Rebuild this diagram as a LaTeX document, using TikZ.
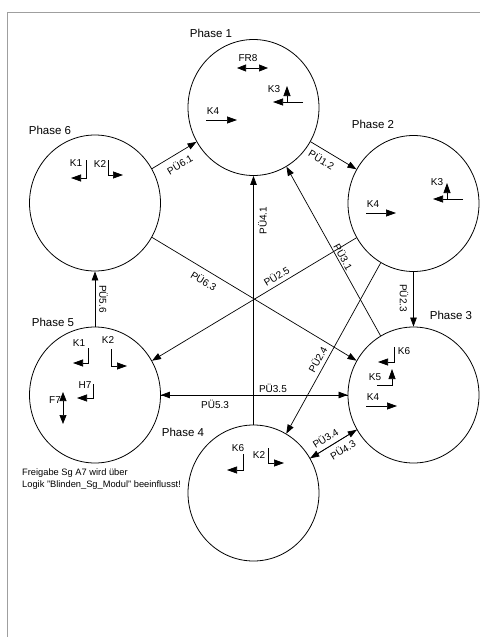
\documentclass[tikz,border=0pt]{standalone}
\usepackage{fontspec}
\setmainfont{Liberation Sans}
\usetikzlibrary{arrows.meta,shapes.geometric}
\begin{document}
\begin{tikzpicture}[x=1pt,y=-1pt,
  ph/.style={draw, ellipse, minimum width=131pt, minimum height=136pt, inner sep=0pt, line width=0.8pt},
  con/.style={line width=0.7pt, -{Triangle[length=9pt,width=6.5pt]}},
  conb/.style={line width=0.7pt, {Triangle[length=9pt,width=6.5pt]}-},
  lab/.style={font=\fontsize{10}{12}\selectfont, inner sep=4pt, sloped},
  ttl/.style={font=\fontsize{11.5}{13}\selectfont, inner sep=0pt},
  kl/.style={font=\fontsize{10}{12}\selectfont, inner sep=0pt},
  sym/.style={line width=0.7pt, -{Triangle[length=10pt,width=7pt]}},
  dsym/.style={line width=0.7pt, {Triangle[length=9pt,width=7pt]}-{Triangle[length=9pt,width=7pt]}},
]
\useasboundingbox (0,0) rectangle (480,637);
\draw[gray!75, line width=1.3pt] (7.5,637) -- (7.5,12.5) -- (480,12.5);

% phases
\node[ph] (p1) at (253.5,107.5) {};
\node[ph] (p2) at (413.5,203.5) {};
\node[ph] (p3) at (413.5,395) {};
\node[ph] (p4) at (253.5,493) {};
\node[ph] (p5) at (95,395) {};
\node[ph] (p6) at (95,203) {};

\node[ttl] (t1) at (211,33) {Phase 1};
\node[ttl] (t2) at (373,124) {Phase 2};
\node[ttl] (t3) at (451,315) {Phase 3};
\node[ttl] (t4) at (183,432) {Phase 4};
\node[ttl] (t5) at (53,322) {Phase 5};
\node[ttl] (t6) at (50,130) {Phase 6};

% connectors
\draw[con] (p6) -- (p1) node[lab, below, inner sep=6pt, pos=0.5] {PÜ6.1};
\draw[con] (p1) -- (p2) node[lab, below, inner sep=5pt, pos=0.35] {PÜ1.2};
\draw[con] (p2) -- (p3) node[lab, below, inner sep=5pt, pos=0.48] {PÜ2.3};
\draw[con] (p2) -- (p5) node[lab, above, pos=0.37] {PÜ2.5};
\draw[con] (p2) -- (p4) node[lab, above, pos=0.59] {PÜ2.4};
\draw[con] (p3) -- (p1) node[lab, above, inner sep=1.5pt, pos=0.45] {PÜ3.1};
\draw[con] (p6) -- (p3) node[lab, below, inner sep=6pt, pos=0.28] {PÜ6.3};
\draw[conb] (p6) -- (p5) node[lab, above, pos=0.5] {PÜ5.6};
\draw[con] (p4) -- (p1) node[lab, below, inner sep=4.5pt, pos=0.82] {PÜ4.1};
\draw[con] (p5) -- (p3) node[lab, below, inner sep=5pt, pos=0.29] {PÜ5.3};
\draw[con] (p3) -- (p5) node[lab, above, inner sep=2.5pt, pos=0.4] {PÜ3.5};
\draw[con] (p3) -- (p4) node[lab, above, inner sep=5pt, pos=0.57] {PÜ3.4};
\draw[con] (p4) -- (p3) node[lab, below, inner sep=5pt, pos=0.59] {PÜ4.3};

% Phase 1 symbols
\node[kl] (fr8) at (248,58) {FR8};
\draw[dsym] (237,68) -- (268,68);
\node[kl] (k3a) at (274,89) {K3};
\draw[sym] (303,102) -- (273,102);
\draw[sym] (287,102) -- (287,86);
\node[kl] (k4a) at (213,111) {K4};
\draw[sym] (206,120) -- (237,120);

% Phase 2 symbols
\node[kl] (k3b) at (437,182) {K3};
\draw[sym] (463,199) -- (433,199);
\draw[sym] (447,199) -- (447,183);
\node[kl] (k4b) at (373,204) {K4};
\draw[sym] (366,213) -- (396,213);

% Phase 6 symbols
\node[kl] (k1f) at (76,163) {K1};
\draw[sym] (86,160) -- (86,178) -- (71,178);
\node[kl] (k2f) at (100,164) {K2};
\draw[sym] (108,160) -- (108,175) -- (123,175);

% Phase 5 symbols
\node[kl] (k1e) at (79,343) {K1};
\draw[sym] (88,348) -- (88,363) -- (73,363);
\node[kl] (k2e) at (108,340) {K2};
\draw[sym] (111,349) -- (111,366) -- (127,366);
\node[kl] (h7) at (85,385) {H7};
\draw[sym] (93,384) -- (93,398) -- (77,398);
\node[kl] (f7) at (55,400) {F7};
\draw[dsym] (63,392) -- (63,424);

% Phase 3 symbols
\node[kl] (k6c) at (404,351) {K6};
\draw[sym] (394,347) -- (394,362) -- (378,362);
\node[kl] (k5c) at (375,377) {K5};
\draw[sym] (377,385) -- (392,385) -- (392,369);
\node[kl] (k4c) at (373,397) {K4};
\draw[sym] (366,406) -- (397,406);

% Phase 4 symbols
\node[kl] (k6d) at (238,448) {K6};
\draw[sym] (243,454) -- (243,470) -- (227,470);
\node[kl] (k2d) at (259,455) {K2};
\draw[sym] (268,448) -- (268,463) -- (284,463);

% note
\node[font=\fontsize{9.3}{12}\selectfont, align=left, anchor=north west, inner sep=0pt] (note) at (22,469) {Freigabe Sg A7 wird über\\Logik "Blinden\_Sg\_Modul" beeinflusst!};
\end{tikzpicture}
\end{document}
